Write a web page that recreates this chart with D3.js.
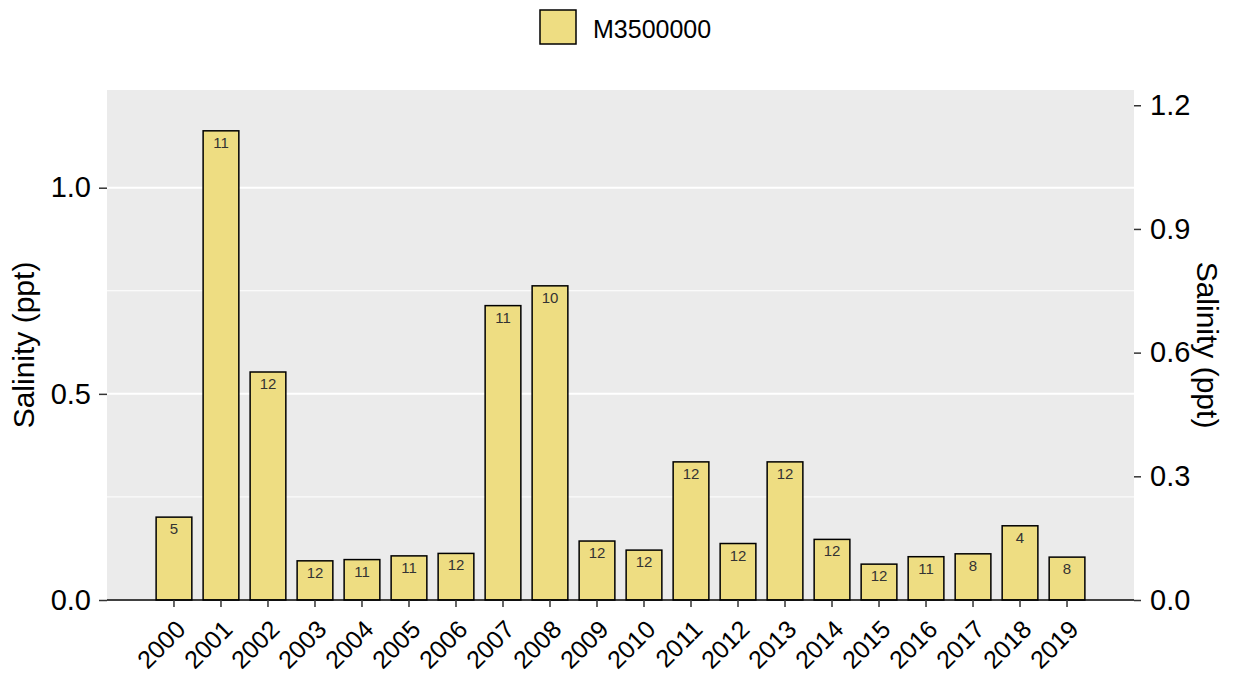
<!DOCTYPE html>
<html>
<head>
<meta charset="utf-8">
<script src="https://cdn.jsdelivr.net/npm/d3@7"></script>
<style>
  body { margin: 0; background: #fff; }
  text { font-family: "Liberation Sans", Arial, sans-serif; }
</style>
</head>
<body>
<div id="chart"></div>
<script>
// data
const years = ["2000","2001","2002","2003","2004","2005","2006","2007","2008","2009",
               "2010","2011","2012","2013","2014","2015","2016","2017","2018","2019"];
const salinity = [0.201, 1.138, 0.553, 0.095, 0.098, 0.107, 0.113, 0.714, 0.762, 0.143,
                  0.121, 0.335, 0.137, 0.335, 0.147, 0.087, 0.105, 0.112, 0.180, 0.104];
const counts = [5, 11, 12, 12, 11, 11, 12, 11, 10, 12, 12, 12, 12, 12, 12, 12, 11, 8, 4, 8];
const leftTicks = [0, 0.5, 1.0];
const minorTicks = [0.25, 0.75];
const rightTicks = [0, 0.3, 0.6, 0.9, 1.2];
const station = "M3500000";

const width = 1233, height = 673;
const margin = {left: 107, right: 99, top: 90, bottom: 73};
const fill = "#EEDD82";

const svg = d3.select("#chart").append("svg")
    .attr("width", width)
    .attr("height", height);

const x = d3.scaleBand()
    .domain(years)
    .range([margin.left, width - margin.right])
    .paddingInner(0.24)
    .paddingOuter(1.045);

const y = d3.scaleLinear()
    .domain([0, 1.237])
    .range([height - margin.bottom, margin.top]);

// panel
svg.append("rect")
    .attr("x", margin.left).attr("y", margin.top)
    .attr("width", width - margin.left - margin.right)
    .attr("height", height - margin.top - margin.bottom)
    .attr("fill", "#EBEBEB");

// grid
svg.selectAll(".minor").data(minorTicks).join("line")
    .attr("x1", margin.left).attr("x2", width - margin.right)
    .attr("y1", d => y(d)).attr("y2", d => y(d))
    .attr("stroke", "#fff").attr("stroke-width", 1);
svg.selectAll(".major").data(leftTicks).join("line")
    .attr("x1", margin.left).attr("x2", width - margin.right)
    .attr("y1", d => y(d)).attr("y2", d => y(d))
    .attr("stroke", "#fff").attr("stroke-width", 2);

// bars
const bars = svg.append("g");
bars.selectAll("rect").data(years).join("rect")
    .attr("x", d => x(d))
    .attr("width", x.bandwidth())
    .attr("y", (d, i) => y(salinity[i]))
    .attr("height", (d, i) => y(0) - y(salinity[i]))
    .attr("fill", fill)
    .attr("stroke", "#000")
    .attr("stroke-width", 1.5);

bars.selectAll("text").data(years).join("text")
    .attr("x", d => x(d) + x.bandwidth() / 2)
    .attr("y", (d, i) => y(salinity[i]) + 17)
    .attr("text-anchor", "middle")
    .attr("font-size", 15)
    .attr("fill", "#333")
    .text((d, i) => counts[i]);

// bottom axis line
svg.append("line")
    .attr("x1", margin.left).attr("x2", width - margin.right)
    .attr("y1", y(0)).attr("y2", y(0))
    .attr("stroke", "#000").attr("stroke-width", 1.5);

// x axis
const gx = svg.append("g")
    .attr("transform", "translate(0," + y(0) + ")")
    .call(d3.axisBottom(x).tickSize(7).tickSizeOuter(0));
gx.select(".domain").remove();
gx.selectAll(".tick line").attr("stroke", "#333").attr("stroke-width", 1.5);
gx.selectAll(".tick text")
    .attr("font-size", 25)
    .attr("fill", "#000")
    .attr("text-anchor", "end")
    .attr("dy", null)
    .attr("y", null)
    .attr("transform", "translate(13,31) rotate(-45)");

// left axis
const gl = svg.append("g")
    .attr("transform", "translate(" + margin.left + ",0)")
    .call(d3.axisLeft(y).tickValues(leftTicks).tickFormat(d3.format(".1f")).tickSize(8).tickPadding(8));
gl.select(".domain").remove();
gl.selectAll(".tick line").attr("stroke", "#333").attr("stroke-width", 1.5);
gl.selectAll(".tick text").attr("font-size", 29).attr("fill", "#000");

// right axis
const gr = svg.append("g")
    .attr("transform", "translate(" + (width - margin.right) + ",0)")
    .call(d3.axisRight(y).tickValues(rightTicks).tickFormat(d3.format(".1f")).tickSize(7).tickPadding(9));
gr.select(".domain").remove();
gr.selectAll(".tick line").attr("stroke", "#333").attr("stroke-width", 1.5);
gr.selectAll(".tick text").attr("font-size", 29).attr("fill", "#000");

// axis titles
const midY = (margin.top + height - margin.bottom) / 2;
svg.append("text")
    .attr("transform", "translate(34," + midY + ") rotate(-90)")
    .attr("text-anchor", "middle")
    .attr("font-size", 30)
    .text("Salinity (ppt)");
svg.append("text")
    .attr("transform", "translate(1197," + midY + ") rotate(90)")
    .attr("text-anchor", "middle")
    .attr("font-size", 30)
    .text("Salinity (ppt)");

// legend
const legend = svg.append("g");
legend.append("rect")
    .attr("x", 540).attr("y", 10)
    .attr("width", 36).attr("height", 34)
    .attr("fill", fill).attr("stroke", "#000").attr("stroke-width", 1.5);
legend.append("text")
    .attr("x", 593).attr("y", 38)
    .attr("font-size", 25)
    .text(station);
</script>
</body>
</html>
